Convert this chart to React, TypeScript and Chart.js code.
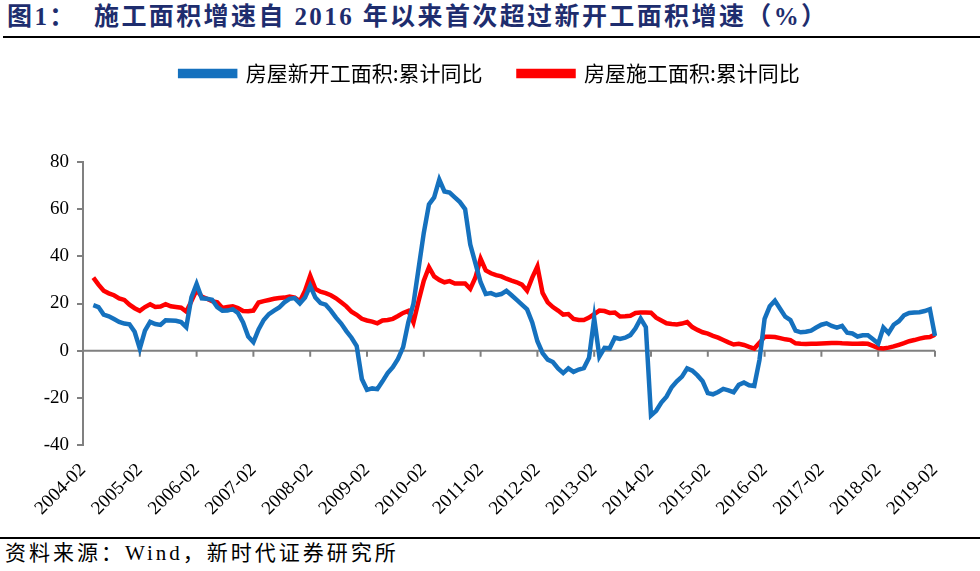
import React, { useEffect, useRef } from "react";
import { Chart, registerables } from "chart.js";

Chart.register(...registerables);

// ---- categories ----
const YEARS = [2004, 2005, 2006, 2007, 2008, 2009, 2010, 2011, 2012, 2013, 2014, 2015, 2016, 2017, 2018];
const MONTHS = ["02", "03", "04", "05", "06", "07", "08", "09", "10", "11", "12"];
const LAST_LABEL = "2019-02";
const categories: string[] = [];
YEARS.forEach((y) => MONTHS.forEach((m) => categories.push(`${y}-${m}`)));
categories.push(LAST_LABEL);

// ---- series ----
const SERIES_NAMES = ["房屋新开工面积:累计同比", "房屋施工面积:累计同比"];

const newStarts: (number | null)[] = [
  null, null, 19.3, 18.5, 15.3, 14.6, 13.4, 12.2, 11.5, 11.2, 8,
  0.9, 8.5, 12.2, 11.3, 10.9, 12.9, 12.8, 12.7, 12.1, 10, 22.6,
  28.3, 22.2, 22, 21.6, 18.5, 16.9, 17, 17.6, 16, 12, 6,
  3.6, 9, 13, 15.5, 17, 18.3, 20.5, 22, 22.3, 20, 22.5,
  27.5, 22.5, 20.2, 19.5, 17, 14, 11.5, 8.3, 5.5, 2, -12,
  -16.6, -16, -16.3, -13, -9.5, -7, -3.5, 1.5, 12, 20, 35,
  50, 62, 65, 72.5, 67.5, 67, 65, 63, 60, 45, 37,
  29, 24, 24.4, 23.5, 24, 25.4, 23.5, 21.5, 19.5, 17.5, 12,
  4, -1, -3.8, -4.8, -7.5, -9.5, -7.5, -9, -8, -7.4, -3,
  13.8, -2.5, 1.2, 1, 5.5, 5, 5.5, 6.6, 9.5, 13.6, 10,
  -27.5, -25.5, -22, -19.5, -15.5, -13, -11, -7.5, -8.5, -10.5, -13,
  -18, -18.5, -17.5, -16.2, -16.8, -17.6, -14.5, -13.5, -14.7, -15, -4,
  13.5, 18.8, 21.2, 17.8, 14.4, 13, 8.5, 7.8, 8, 8.5, 9.8,
  11, 11.6, 10.5, 9.8, 10.5, 7.6, 7.3, 6, 6.5, 6.5, 4.8,
  3, 9.8, 7.5, 11, 12.5, 15, 16, 16.2, 16.3, 16.8, 17.6,
  6.2,
];

const underConstruction: (number | null)[] = [
  null, null, 31, 28, 25.4, 24.3, 23.5, 22.2, 21.5, 19.5, 18,
  16.9, 18.5, 19.7, 18.5, 18.7, 19.7, 18.8, 18.5, 18.2, 16.6, 21,
  25.7, 22.9, 22, 21, 20.5, 18.1, 18.5, 18.8, 18.1, 16.8, 16.7,
  17, 20.4, 21, 21.5, 22, 22.3, 22.5, 22.9, 22.5, 21, 25.4,
  31.8, 26.2, 25, 24.4, 23.5, 22.2, 20.5, 18.8, 16.5, 15.2, 13.5,
  12.8, 12.3, 11.6, 12.8, 13, 13.5, 14.7, 16, 16.9, 12, 21.2,
  29.7, 35.4, 31.5, 30, 29, 29.5, 28.5, 28.5, 28.5, 26.2, 31,
  39, 34, 32.8, 32, 31.5, 30.5, 29.7, 29, 28, 25.4, 31,
  35.7, 24.5, 20.5, 18.5, 17, 15.3, 15.5, 13.5, 13, 13, 14,
  15.5, 17, 16.8, 16, 16.2, 14.5, 14.6, 14.8, 16, 16.2, 16.2,
  16.1, 14, 12.8, 11.6, 11.3, 11.1, 11.5, 12.1, 10, 8.8, 7.8,
  7.2, 6.3, 5.5, 4.5, 3.5, 2.6, 2.9, 2.4, 1.6, 0.9, 3.3,
  5.9, 5.9, 5.8, 5.3, 4.8, 4.5, 3.1, 2.9, 2.8, 2.9, 2.9,
  3, 3.1, 3.2, 3.3, 3.1, 3, 2.9, 2.9, 3, 2.9, 2,
  1.1, 0.9, 1.3, 1.8, 2.5, 3.2, 4, 4.5, 5.1, 5.6, 5.8,
  6.8,
];

const Y_MIN = -40;
const Y_MAX = 80;
const Y_STEP = 20;
const LABEL_EVERY = 11;

const TITLE = "图1：  施工面积增速自 2016 年以来首次超过新开工面积增速（%）";
const SOURCE = "资料来源：Wind，新时代证券研究所";

const SERIF = "'Liberation Serif', 'Times New Roman', 'Noto Sans CJK SC', serif";
const CJK = "'Noto Sans CJK SC', 'Liberation Serif', serif";

const zeroAxisPlugin = {
  id: "zeroAxis",
  beforeDatasetsDraw(chart: any) {
    const { ctx, chartArea, scales } = chart;
    const x = scales.x;
    const y = scales.y;
    const y0 = y.getPixelForValue(0);
    ctx.save();
    ctx.strokeStyle = "#808080";
    ctx.lineWidth = 2;
    ctx.beginPath();
    ctx.moveTo(chartArea.left, y0);
    ctx.lineTo(chartArea.right, y0);
    for (let i = 0; i < categories.length; i += LABEL_EVERY) {
      const px = x.getPixelForValue(i);
      ctx.moveTo(px, y0);
      ctx.lineTo(px, y0 + 6);
    }
    ctx.stroke();
    ctx.restore();
  },
};

const LEGEND_H = 135;
const legendHeightPlugin = {
  id: "legendHeight",
  beforeLayout(chart: any) {
    const lg = chart.legend;
    if (lg && !lg.__patched) {
      const orig = lg.fit.bind(lg);
      lg.fit = () => {
        orig();
        lg.height = LEGEND_H;
      };
      lg.__patched = true;
    }
  },
};

function LineChart() {
  const ref = useRef<HTMLCanvasElement | null>(null);
  useEffect(() => {
    if (!ref.current) return;
    const chart = new Chart(ref.current, {
      type: "line",
      data: {
        labels: categories,
        datasets: [
          {
            label: SERIES_NAMES[0],
            data: newStarts,
            borderColor: "#1571BE",
            backgroundColor: "#1571BE",
            borderWidth: 4.5,
            pointRadius: 0,
            tension: 0,
          },
          {
            label: SERIES_NAMES[1],
            data: underConstruction,
            borderColor: "#FF0000",
            backgroundColor: "#FF0000",
            borderWidth: 4.5,
            pointRadius: 0,
            tension: 0,
          },
        ],
      },
      options: {
        responsive: false,
        animation: false,
        layout: { padding: 0 },
        plugins: {
          tooltip: { enabled: false },
          legend: {
            position: "top",
            align: "center",
            labels: {
              boxWidth: 55,
              boxHeight: 5,
              padding: 36,
              color: "#000",
              font: { family: CJK, size: 21 },
            },
          },
        },
        scales: {
          x: {
            type: "category",
            grid: { display: false, drawTicks: false },
            border: { display: false },
            ticks: {
              autoSkip: false,
              maxRotation: 45,
              minRotation: 45,
              padding: 14,
              color: "#000",
              font: { family: SERIF, size: 19 },
              callback: (_v: any, idx: number) => (idx % LABEL_EVERY === 0 ? categories[idx] : null),
            },
            afterFit: (s: any) => {
              s.height = 85;
            },
          },
          y: {
            min: Y_MIN,
            max: Y_MAX,
            grid: {
              display: true,
              drawOnChartArea: false,
              drawTicks: true,
              tickLength: 6,
              color: "#808080",
              lineWidth: 2,
            },
            border: { display: true, color: "#808080", width: 2 },
            ticks: {
              stepSize: Y_STEP,
              padding: 8,
              color: "#000",
              font: { family: SERIF, size: 19 },
            },
            afterFit: (s: any) => {
              s.width = 83;
            },
          },
          yRight: {
            position: "right",
            display: true,
            grid: { display: false, drawTicks: false },
            border: { display: false },
            ticks: { display: false },
            afterFit: (s: any) => {
              s.width = 45;
            },
          },
        },
      } as any,
      plugins: [zeroAxisPlugin, legendHeightPlugin],
    });
    return () => chart.destroy();
  }, []);
  return (
    <canvas
      ref={ref}
      width={980}
      height={503}
      style={{ position: "absolute", left: 0, top: 27, width: 980, height: 503 }}
    />
  );
}

export default function App() {
  return (
    <div
      style={{
        position: "absolute",
        left: 0,
        top: 0,
        width: 980,
        height: 571,
        background: "#fff",
        overflow: "hidden",
      }}
    >
      <div
        style={{
          position: "absolute",
          left: 7,
          top: 2,
          fontFamily: SERIF,
          fontWeight: "bold",
          fontSize: 25,
          lineHeight: "30px",
          letterSpacing: "2.4px",
          color: "#1E2D6E",
          whiteSpace: "pre",
        }}
      >
        {TITLE}
      </div>
      <div style={{ position: "absolute", left: 3, top: 36, width: 977, height: 2, background: "#000" }} />
      <LineChart />
      <div style={{ position: "absolute", left: 0, top: 537, width: 980, height: 2, background: "#000" }} />
      <div
        style={{
          position: "absolute",
          left: 5,
          top: 540,
          fontFamily: SERIF,
          fontSize: 21,
          lineHeight: "26px",
          letterSpacing: "3px",
          color: "#000",
          whiteSpace: "pre",
        }}
      >
        {SOURCE}
      </div>
    </div>
  );
}
